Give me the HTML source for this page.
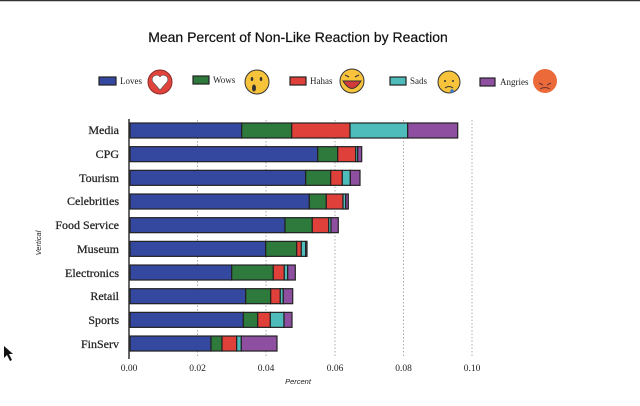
<!DOCTYPE html>
<html><head><meta charset="utf-8"><style>
html,body{margin:0;padding:0;background:#fff;width:640px;height:406px;overflow:hidden}
svg{display:block}
text{font-family:"Liberation Serif",serif;fill:#222}
.s{font-family:"Liberation Sans",sans-serif}
</style></head><body>
<svg width="640" height="406" viewBox="0 0 640 406">
<line x1="0" y1="0.5" x2="640" y2="0.5" stroke="#333" stroke-width="1.5"/>
<text x="298" y="42" text-anchor="middle" class="s" font-size="14" style="fill:#111;font-weight:500;stroke:#111;stroke-width:0.2">Mean Percent of Non-Like Reaction by Reaction</text>
<g stroke="#222" stroke-width="1.2">
<rect x="99" y="77" width="17" height="8" fill="#3548a0"/>
<rect x="193" y="76" width="16" height="8" fill="#2e7a3c"/>
<rect x="290" y="77" width="16" height="8" fill="#e0403a"/>
<rect x="390" y="77" width="16" height="8" fill="#4fbcbc"/>
<rect x="480" y="78" width="15" height="8" fill="#8e4fa0"/>
</g>
<g font-size="9">
<text x="120" y="84">Loves</text><text x="213" y="83">Wows</text><text x="310" y="84">Hahas</text><text x="410" y="84">Sads</text><text x="500" y="85">Angries</text>
</g>
<circle cx="160" cy="82" r="12" fill="#e0433b" stroke="#8a2a2a"/>
<path d="M160 90 L153 82 A3.5 3.5 0 0 1 160 77 A3.5 3.5 0 0 1 167 82 Z" fill="#fff" stroke="#555" stroke-width="0.6"/>
<circle cx="257" cy="82" r="12" fill="#f6c33a" stroke="#333"/>
<ellipse cx="254" cy="88" rx="2" ry="3.5" fill="#333"/><ellipse cx="252" cy="79" rx="1.3" ry="2" fill="#333"/><ellipse cx="261" cy="79" rx="1.3" ry="2" fill="#333"/>
<circle cx="352" cy="81" r="12" fill="#f6c33a" stroke="#333"/>
<path d="M343 81 Q352 96 361 81 Z" fill="#d43a3a" stroke="#333"/>
<path d="M345 75 L349 77 M359 75 L355 77" stroke="#333" stroke-width="1.2"/>
<circle cx="449" cy="82" r="11" fill="#f6c33a" stroke="#333"/>
<circle cx="445" cy="81" r="1" fill="#333"/><circle cx="453" cy="81" r="1" fill="#333"/>
<path d="M445 88 Q449 85 453 88" fill="none" stroke="#333"/><circle cx="452" cy="91" r="1.8" fill="#3a7ad0"/>
<circle cx="545" cy="81" r="12" fill="#ec6a3a"/>
<path d="M539 83 L543 85 M551 83 L547 85" stroke="#633" stroke-width="1"/>
<path d="M540 89 Q545 86 550 89" fill="none" stroke="#633" stroke-width="1"/>
<g stroke="#999" stroke-dasharray="1.5,2" stroke-width="0.8">
<line x1="197.5" y1="120" x2="197.5" y2="358"/><line x1="266" y1="120" x2="266" y2="358"/><line x1="335" y1="120" x2="335" y2="358"/><line x1="403.5" y1="120" x2="403.5" y2="358"/><line x1="472" y1="120" x2="472" y2="358"/>
</g>
<line x1="129" y1="119" x2="129" y2="359" stroke="#333" stroke-width="1.5"/>
<g id="bars" stroke="#222" stroke-width="1.2"></g>
<g font-size="12" text-anchor="end" style="stroke:#222;stroke-width:0.25">
<text x="119" y="134">Media</text><text x="119" y="158">CPG</text><text x="119" y="182">Tourism</text><text x="119" y="205">Celebrities</text><text x="119" y="229">Food Service</text><text x="119" y="253">Museum</text><text x="119" y="277">Electronics</text><text x="119" y="300">Retail</text><text x="119" y="324">Sports</text><text x="119" y="348">FinServ</text>
</g>
<g font-size="9.5" text-anchor="middle" class="s">
<text x="129" y="371">0.00</text><text x="197.5" y="371">0.02</text><text x="266" y="371">0.04</text><text x="335" y="371">0.06</text><text x="403.5" y="371">0.08</text><text x="472" y="371">0.10</text>
</g>
<text x="298" y="384" font-size="7.5" font-style="italic" text-anchor="middle" class="s">Percent</text>
<text transform="translate(41,243) rotate(-90)" font-size="7.5" font-style="italic" text-anchor="middle" class="s">Vertical</text>
<path d="M4 346 L4 358 L7 355 L10 361 L12 360 L9 354 L13 354 Z" fill="#111"/>
</svg>
<script>
var d=[[241.7,291.7,350,407.7,457.7],[317.7,337.7,355.7,357.7,361.7],[305.7,330.7,342.3,350.3,360],[309.3,326.3,343,345.7,348.3],[285,312.3,328.7,331,338.3],[265.7,296.7,301.3,305.7,307],[231.7,273.3,284.3,287.7,295.3],[245.7,270.7,280.3,283.3,292.7],[243.3,257.7,270.3,284,292],[211,222,236.7,241.3,277]];
var c=["#3548a0","#2e7a3c","#e0403a","#4fbcbc","#8e4fa0"];
var g=document.getElementById("bars"),h="";
d.forEach(function(r,i){var y=123+i*23.67,x=130;r.forEach(function(e,j){h+='<rect x="'+x+'" y="'+y+'" width="'+(e-x)+'" height="15" fill="'+c[j]+'"/>';x=e;});});
g.innerHTML=h;
</script>
</body></html>
